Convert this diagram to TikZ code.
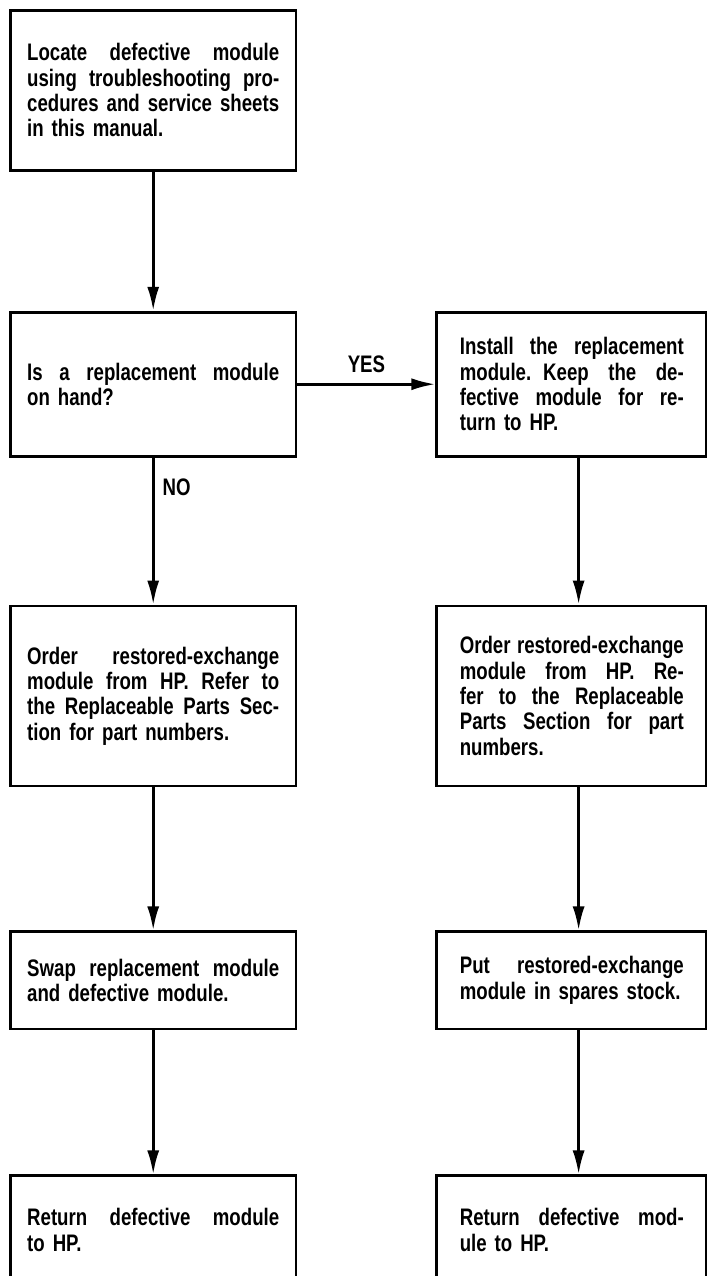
\documentclass[tikz,border=0pt]{standalone}
\usepackage{fontspec}
\setmainfont{Liberation Sans}[FakeStretch=0.78]
\usetikzlibrary{positioning,arrows.meta}

% one full, stretched line of a justified box text
\newcommand{\jline}[1]{\makebox[\hsize][s]{\spaceskip=0pt\relax #1}\\}

\begin{document}
\begin{tikzpicture}[
		>={Latex[length=6mm,width=3mm]},
		box/.style={
			draw,
			line width=2pt,
			inner ysep=0pt,
			align=left,
			font=\fontsize{17pt}{18pt}\selectfont\bfseries
		},
		lbox/.style={box, inner xsep=0.42cm, text width=6.3cm},
		rbox/.style={box, inner xsep=0.575cm, text width=5.6cm},
		lbl/.style={
			inner sep=0pt,
			font=\fontsize{17pt}{18pt}\selectfont\bfseries
		},
		flow/.style={->, line width=2pt}
		]
		
		\useasboundingbox (0,0) rectangle (17.675,-31.9);
		\clip (0,0) rectangle (17.675,-31.9);
		
		%--------------------------------------------------
		% Nodes
		%--------------------------------------------------
		
		\node (locate) [lbox, minimum height=4.0cm, anchor=north west] at (0.225,-0.225)
		{\jline{Locate defective module}\jline{using troubleshooting pro-}\jline{cedures and service sheets}in this manual.\par\vspace*{0.5cm}};
		
		\node (onhand) [lbox, minimum height=3.6cm, below=3.475cm of locate]
		{\jline{Is a replacement module}on hand?};
		
		\node (install) [rbox, minimum height=3.6cm, right=3.45cm of onhand]
		{\jline{Install the replacement}\jline{module. Keep the de-}\jline{fective module for re-}turn to HP.};
		
		\node (orderl) [lbox, minimum height=4.5cm, below=3.675cm of onhand]
		{\jline{Order restored-exchange}\jline{module from HP. Refer to}\jline{the Replaceable Parts Sec-}tion for part numbers.};
		
		\node (orderr) [rbox, minimum height=4.5cm, right=3.45cm of orderl]
		{\jline{Order restored-exchange}\jline{module from HP. Re-}\jline{fer to the Replaceable}\jline{Parts Section for part}numbers.};
		
		\node (swap) [lbox, minimum height=2.43cm, below=3.575cm of orderl]
		{\jline{Swap replacement module}and defective module.};
		
		\node (spares) [rbox, minimum height=2.43cm, right=3.45cm of swap]
		{\jline{Put restored-exchange}module in spares stock.};
		
		\node (returnl) [lbox, minimum height=2.7cm, below=3.6cm of swap]
		{\jline{Return defective module}to HP.};
		
		\node (returnr) [rbox, minimum height=2.7cm, right=3.45cm of returnl]
		{\jline{Return defective mod-}ule to HP.};
		
		%--------------------------------------------------
		% Connections
		%--------------------------------------------------
		
		\draw[flow] (locate) -- (onhand);
		
		\draw[flow] (onhand) -- node[lbl, above=2.5mm] {YES} (install);
		
		\draw[flow] (onhand) -- node[lbl, pos=0.2, right=2mm] {NO} (orderl);
		
		\draw[flow] ([xshift=0.17cm]install.south) -- ([xshift=0.17cm]orderr.north);
		
		\draw[flow] (orderl) -- (swap);
		
		\draw[flow] ([xshift=0.17cm]orderr.south) -- ([xshift=0.17cm]spares.north);
		
		\draw[flow] (swap) -- (returnl);
		
		\draw[flow] ([xshift=0.17cm]spares.south) -- ([xshift=0.17cm]returnr.north);
		
	\end{tikzpicture}
\end{document}
